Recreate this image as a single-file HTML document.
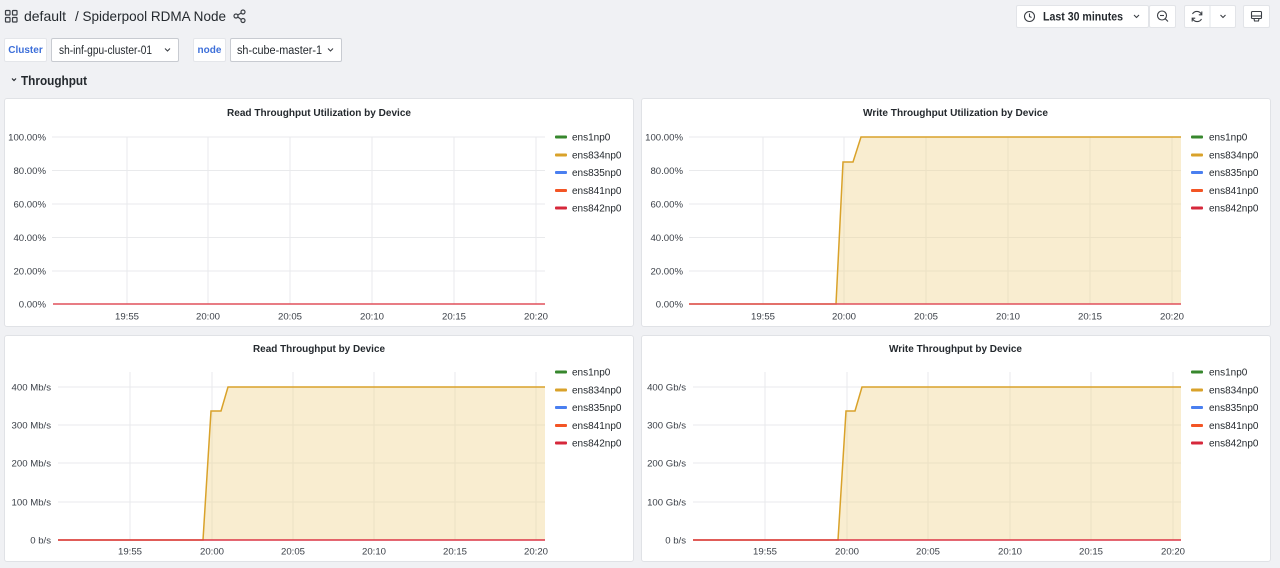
<!DOCTYPE html>
<html><head><meta charset="utf-8">
<style>
html,body{margin:0;padding:0;}
body{width:1280px;height:568px;background:#f0f1f4;font-family:"Liberation Sans",Arial,sans-serif;position:relative;overflow:hidden;color:#24292e;}
.abs{position:absolute;}
.panel{position:absolute;background:#fff;border:1px solid #e0e2e6;border-radius:3px;box-sizing:border-box;}
.lbl{position:absolute;background:#fff;border:1px solid #e4e6ea;border-radius:2px;box-sizing:border-box;color:#3d6fd9;font-weight:bold;font-size:10px;display:flex;align-items:center;justify-content:center;}
.dd{position:absolute;background:#fff;border:1px solid #c8cbd1;border-radius:2px;box-sizing:border-box;}
.btn{position:absolute;background:#fff;border:1px solid #e2e4e8;border-radius:2px;box-sizing:border-box;}
svg text{font-family:"Liberation Sans",Arial,sans-serif;}
</style></head><body>

<!-- header -->
<svg class="abs" style="left:0;top:0" width="1280" height="100">
  <g fill="none" stroke="#3b3f45" stroke-width="1.2">
    <rect x="5.5" y="10.5" width="4.5" height="4.5" rx="0.8"/>
    <rect x="12.5" y="10.5" width="4.5" height="4.5" rx="0.8"/>
    <rect x="5.5" y="17.5" width="4.5" height="4.5" rx="0.8"/>
    <rect x="12.5" y="17.5" width="4.5" height="4.5" rx="0.8"/>
  </g>
  <text x="24" y="21" font-size="14" fill="#24292e" textLength="42" lengthAdjust="spacingAndGlyphs">default</text>
  <text x="75" y="21" font-size="14" fill="#24292e" textLength="151" lengthAdjust="spacingAndGlyphs">/ Spiderpool RDMA Node</text>
  <g fill="none" stroke="#3b3f45" stroke-width="1.2">
    <circle cx="243" cy="12" r="2"/>
    <circle cx="236" cy="16" r="2"/>
    <circle cx="243" cy="20.5" r="2"/>
    <line x1="237.8" y1="15" x2="241.2" y2="13"/>
    <line x1="237.8" y1="17" x2="241.2" y2="19.5"/>
  </g>
  <!-- throughput row -->
  <path d="M12 78.5 L14 80.5 L16 78.5" fill="none" stroke="#24292e" stroke-width="1.2"/>
  <text x="21" y="85" font-size="13" font-weight="bold" fill="#24292e" textLength="66" lengthAdjust="spacingAndGlyphs">Throughput</text>
</svg>

<div class="lbl" style="left:4px;top:38px;width:43px;height:24px;">Cluster</div>
<div class="dd" style="left:51px;top:38px;width:128px;height:24px;"></div>
<div class="lbl" style="left:193px;top:38px;width:33px;height:24px;">node</div>
<div class="dd" style="left:230px;top:38px;width:112px;height:24px;"></div>
<svg class="abs" style="left:0;top:30px" width="400" height="40">
  <text x="59" y="24" font-size="11.5" fill="#24292e" textLength="93" lengthAdjust="spacingAndGlyphs">sh-inf-gpu-cluster-01</text>
  <text x="237" y="24" font-size="11.5" fill="#24292e" textLength="85" lengthAdjust="spacingAndGlyphs">sh-cube-master-1</text>
  <path d="M165 18.5 L167.5 21 L170 18.5" fill="none" stroke="#3b3f45" stroke-width="1.1"/>
  <path d="M328 18.5 L330.5 21 L333 18.5" fill="none" stroke="#3b3f45" stroke-width="1.1"/>
</svg>

<!-- top-right controls -->
<div class="btn" style="left:1016px;top:5px;width:133px;height:23px;"></div>
<div class="btn" style="left:1149px;top:5px;width:27px;height:23px;"></div>
<div class="btn" style="left:1184px;top:5px;width:52px;height:23px;"></div>
<div class="btn" style="left:1243px;top:5px;width:27px;height:23px;"></div>
<svg class="abs" style="left:0;top:0" width="1280" height="40">
  <circle cx="1029.5" cy="16.5" r="5" fill="none" stroke="#3b3f45" stroke-width="1.1"/>
  <path d="M1029.5 13.5 V16.5 L1031.5 17.5" fill="none" stroke="#3b3f45" stroke-width="1.1"/>
  <text x="1043" y="20.5" font-size="11.5" font-weight="bold" fill="#24292e" textLength="80" lengthAdjust="spacingAndGlyphs">Last 30 minutes</text>
  <path d="M1134 15 L1136.5 17.5 L1139 15" fill="none" stroke="#3b3f45" stroke-width="1.1"/>
  <circle cx="1162" cy="15.5" r="4.5" fill="none" stroke="#3b3f45" stroke-width="1.1"/>
  <line x1="1160" y1="15.5" x2="1164" y2="15.5" stroke="#3b3f45" stroke-width="1.1"/>
  <line x1="1165.3" y1="18.8" x2="1168" y2="21.5" stroke="#3b3f45" stroke-width="1.1"/>
  <line x1="1210" y1="5" x2="1210" y2="28" stroke="#e2e4e8"/>
  <path d="M1192.5 14 A5 5 0 0 1 1201.5 14.5 M1201.5 19 A5 5 0 0 1 1192.5 18.5" fill="none" stroke="#3b3f45" stroke-width="1.1"/>
  <path d="M1201.8 11.5 V14.8 H1198.8 M1192.2 21.5 V18.2 H1195.2" fill="none" stroke="#3b3f45" stroke-width="1.1"/>
  <path d="M1220.5 15 L1223 17.5 L1225.5 15" fill="none" stroke="#3b3f45" stroke-width="1.1"/>
  <rect x="1251.5" y="11.5" width="10" height="7" rx="1" fill="none" stroke="#3b3f45" stroke-width="1.1"/>
  <line x1="1251.5" y1="16" x2="1261.5" y2="16" stroke="#3b3f45" stroke-width="1.1"/>
  <path d="M1254 18.5 L1254.5 21 H1258.5 L1259 18.5" fill="none" stroke="#3b3f45" stroke-width="1.1"/>
</svg>

<div class="panel" style="left:4px;top:98px;width:630px;height:229px;"></div>
<div class="panel" style="left:641px;top:98px;width:630px;height:229px;"></div>
<div class="panel" style="left:4px;top:335px;width:630px;height:227px;"></div>
<div class="panel" style="left:641px;top:335px;width:630px;height:227px;"></div>

<svg class="abs" style="left:0;top:0" width="1280" height="568">
  <!-- titles -->
  <g font-size="10.5" font-weight="bold" fill="#24292e" text-anchor="middle">
    <text x="319" y="116" textLength="184" lengthAdjust="spacingAndGlyphs">Read Throughput Utilization by Device</text>
    <text x="955.5" y="116" textLength="185" lengthAdjust="spacingAndGlyphs">Write Throughput Utilization by Device</text>
    <text x="319" y="352" textLength="132" lengthAdjust="spacingAndGlyphs">Read Throughput by Device</text>
    <text x="955.5" y="352" textLength="133" lengthAdjust="spacingAndGlyphs">Write Throughput by Device</text>
  </g>

  <!-- ===== Top-left ===== -->
  <g stroke="#e9eaec" stroke-width="1">
    <line x1="52" y1="137" x2="545" y2="137"/>
    <line x1="52" y1="170.5" x2="545" y2="170.5"/>
    <line x1="52" y1="204" x2="545" y2="204"/>
    <line x1="52" y1="237.5" x2="545" y2="237.5"/>
    <line x1="52" y1="271" x2="545" y2="271"/>
    <line x1="127" y1="137" x2="127" y2="304"/>
    <line x1="208" y1="137" x2="208" y2="304"/>
    <line x1="290" y1="137" x2="290" y2="304"/>
    <line x1="372" y1="137" x2="372" y2="304"/>
    <line x1="454" y1="137" x2="454" y2="304"/>
    <line x1="536" y1="137" x2="536" y2="304"/>
  </g>
  <g font-size="9.6" fill="#3b4048" text-anchor="end">
    <text x="46" y="140.5">100.00%</text>
    <text x="46" y="174">80.00%</text>
    <text x="46" y="207.5">60.00%</text>
    <text x="46" y="241">40.00%</text>
    <text x="46" y="274.5">20.00%</text>
    <text x="46" y="307.5">0.00%</text>
  </g>
  <g font-size="9.6" fill="#3b4048" text-anchor="middle">
    <text x="127" y="319.5">19:55</text>
    <text x="208" y="319.5">20:00</text>
    <text x="290" y="319.5">20:05</text>
    <text x="372" y="319.5">20:10</text>
    <text x="454" y="319.5">20:15</text>
    <text x="536" y="319.5">20:20</text>
  </g>
  <line x1="53" y1="304" x2="545" y2="304" stroke="#e0505c" stroke-width="1.5"/>

  <!-- ===== Top-right ===== -->
  <g stroke="#e9eaec" stroke-width="1">
    <line x1="689" y1="137" x2="1181" y2="137"/>
    <line x1="689" y1="170.5" x2="1181" y2="170.5"/>
    <line x1="689" y1="204" x2="1181" y2="204"/>
    <line x1="689" y1="237.5" x2="1181" y2="237.5"/>
    <line x1="689" y1="271" x2="1181" y2="271"/>
    <line x1="763" y1="137" x2="763" y2="304"/>
    <line x1="844" y1="137" x2="844" y2="304"/>
    <line x1="926" y1="137" x2="926" y2="304"/>
    <line x1="1008" y1="137" x2="1008" y2="304"/>
    <line x1="1090" y1="137" x2="1090" y2="304"/>
    <line x1="1172" y1="137" x2="1172" y2="304"/>
  </g>
  <path d="M836 304 L843 162 L853 162 L861 137 L1181 137 L1181 304 Z" fill="#f0d590" fill-opacity="0.42"/>
  <path d="M689 304 L836 304 L843 162 L853 162 L861 137 L1181 137" fill="none" stroke="#d9a22a" stroke-width="1.5"/>
  <line x1="689" y1="304" x2="1181" y2="304" stroke="#e0505c" stroke-width="1.5"/>
  <g font-size="9.6" fill="#3b4048" text-anchor="end">
    <text x="683" y="140.5">100.00%</text>
    <text x="683" y="174">80.00%</text>
    <text x="683" y="207.5">60.00%</text>
    <text x="683" y="241">40.00%</text>
    <text x="683" y="274.5">20.00%</text>
    <text x="683" y="307.5">0.00%</text>
  </g>
  <g font-size="9.6" fill="#3b4048" text-anchor="middle">
    <text x="763" y="319.5">19:55</text>
    <text x="844" y="319.5">20:00</text>
    <text x="926" y="319.5">20:05</text>
    <text x="1008" y="319.5">20:10</text>
    <text x="1090" y="319.5">20:15</text>
    <text x="1172" y="319.5">20:20</text>
  </g>

  <!-- ===== Bottom-left ===== -->
  <g stroke="#e9eaec" stroke-width="1">
    <line x1="58" y1="387" x2="545" y2="387"/>
    <line x1="58" y1="425" x2="545" y2="425"/>
    <line x1="58" y1="463" x2="545" y2="463"/>
    <line x1="58" y1="502" x2="545" y2="502"/>
    <line x1="130" y1="372" x2="130" y2="540"/>
    <line x1="212" y1="372" x2="212" y2="540"/>
    <line x1="293" y1="372" x2="293" y2="540"/>
    <line x1="374" y1="372" x2="374" y2="540"/>
    <line x1="455" y1="372" x2="455" y2="540"/>
    <line x1="536" y1="372" x2="536" y2="540"/>
  </g>
  <path d="M203 540 L211 411 L221 411 L228 387 L545 387 L545 540 Z" fill="#f0d590" fill-opacity="0.42"/>
  <path d="M58 540 L203 540 L211 411 L221 411 L228 387 L545 387" fill="none" stroke="#d9a22a" stroke-width="1.5"/>
  <line x1="58" y1="540" x2="545" y2="540" stroke="#dc3545" stroke-width="1.6"/>
  <g font-size="9.6" fill="#3b4048" text-anchor="end">
    <text x="51" y="390.5">400 Mb/s</text>
    <text x="51" y="428.5">300 Mb/s</text>
    <text x="51" y="466.5">200 Mb/s</text>
    <text x="51" y="505.5">100 Mb/s</text>
    <text x="51" y="543.5">0 b/s</text>
  </g>
  <g font-size="9.6" fill="#3b4048" text-anchor="middle">
    <text x="130" y="554.5">19:55</text>
    <text x="212" y="554.5">20:00</text>
    <text x="293" y="554.5">20:05</text>
    <text x="374" y="554.5">20:10</text>
    <text x="455" y="554.5">20:15</text>
    <text x="536" y="554.5">20:20</text>
  </g>

  <!-- ===== Bottom-right ===== -->
  <g stroke="#e9eaec" stroke-width="1">
    <line x1="693" y1="387" x2="1181" y2="387"/>
    <line x1="693" y1="425" x2="1181" y2="425"/>
    <line x1="693" y1="463" x2="1181" y2="463"/>
    <line x1="693" y1="502" x2="1181" y2="502"/>
    <line x1="765" y1="372" x2="765" y2="540"/>
    <line x1="847" y1="372" x2="847" y2="540"/>
    <line x1="928" y1="372" x2="928" y2="540"/>
    <line x1="1010" y1="372" x2="1010" y2="540"/>
    <line x1="1091" y1="372" x2="1091" y2="540"/>
    <line x1="1173" y1="372" x2="1173" y2="540"/>
  </g>
  <path d="M838 540 L846 411 L855 411 L862 387 L1181 387 L1181 540 Z" fill="#f0d590" fill-opacity="0.42"/>
  <path d="M693 540 L838 540 L846 411 L855 411 L862 387 L1181 387" fill="none" stroke="#d9a22a" stroke-width="1.5"/>
  <line x1="693" y1="540" x2="1181" y2="540" stroke="#dc3545" stroke-width="1.6"/>
  <g font-size="9.6" fill="#3b4048" text-anchor="end">
    <text x="686" y="390.5">400 Gb/s</text>
    <text x="686" y="428.5">300 Gb/s</text>
    <text x="686" y="466.5">200 Gb/s</text>
    <text x="686" y="505.5">100 Gb/s</text>
    <text x="686" y="543.5">0 b/s</text>
  </g>
  <g font-size="9.6" fill="#3b4048" text-anchor="middle">
    <text x="765" y="554.5">19:55</text>
    <text x="847" y="554.5">20:00</text>
    <text x="928" y="554.5">20:05</text>
    <text x="1010" y="554.5">20:10</text>
    <text x="1091" y="554.5">20:15</text>
    <text x="1173" y="554.5">20:20</text>
  </g>

  <!-- legends -->
  <defs>
    <g id="leg">
      <rect x="0" y="-1.5" width="12" height="3" rx="1" fill="#37872d"/>
      <rect x="0" y="16.5" width="12" height="3" rx="1" fill="#d9a22a"/>
      <rect x="0" y="34" width="12" height="3" rx="1" fill="#4a7ff0"/>
      <rect x="0" y="52" width="12" height="3" rx="1" fill="#f35525"/>
      <rect x="0" y="69.5" width="12" height="3" rx="1" fill="#d6283b"/>
    </g>
  </defs>
  <use href="#leg" x="555" y="137"/>
  <use href="#leg" x="1191" y="137"/>
  <use href="#leg" x="555" y="372"/>
  <use href="#leg" x="1191" y="372"/>
  <g font-size="10" fill="#24292e">
    <text x="572" y="140.5">ens1np0</text>
    <text x="572" y="158.5">ens834np0</text>
    <text x="572" y="176">ens835np0</text>
    <text x="572" y="194">ens841np0</text>
    <text x="572" y="211.5">ens842np0</text>
    <text x="1209" y="140.5">ens1np0</text>
    <text x="1209" y="158.5">ens834np0</text>
    <text x="1209" y="176">ens835np0</text>
    <text x="1209" y="194">ens841np0</text>
    <text x="1209" y="211.5">ens842np0</text>
    <text x="572" y="375.5">ens1np0</text>
    <text x="572" y="393.5">ens834np0</text>
    <text x="572" y="411">ens835np0</text>
    <text x="572" y="429">ens841np0</text>
    <text x="572" y="446.5">ens842np0</text>
    <text x="1209" y="375.5">ens1np0</text>
    <text x="1209" y="393.5">ens834np0</text>
    <text x="1209" y="411">ens835np0</text>
    <text x="1209" y="429">ens841np0</text>
    <text x="1209" y="446.5">ens842np0</text>
  </g>
</svg>
</body></html>
